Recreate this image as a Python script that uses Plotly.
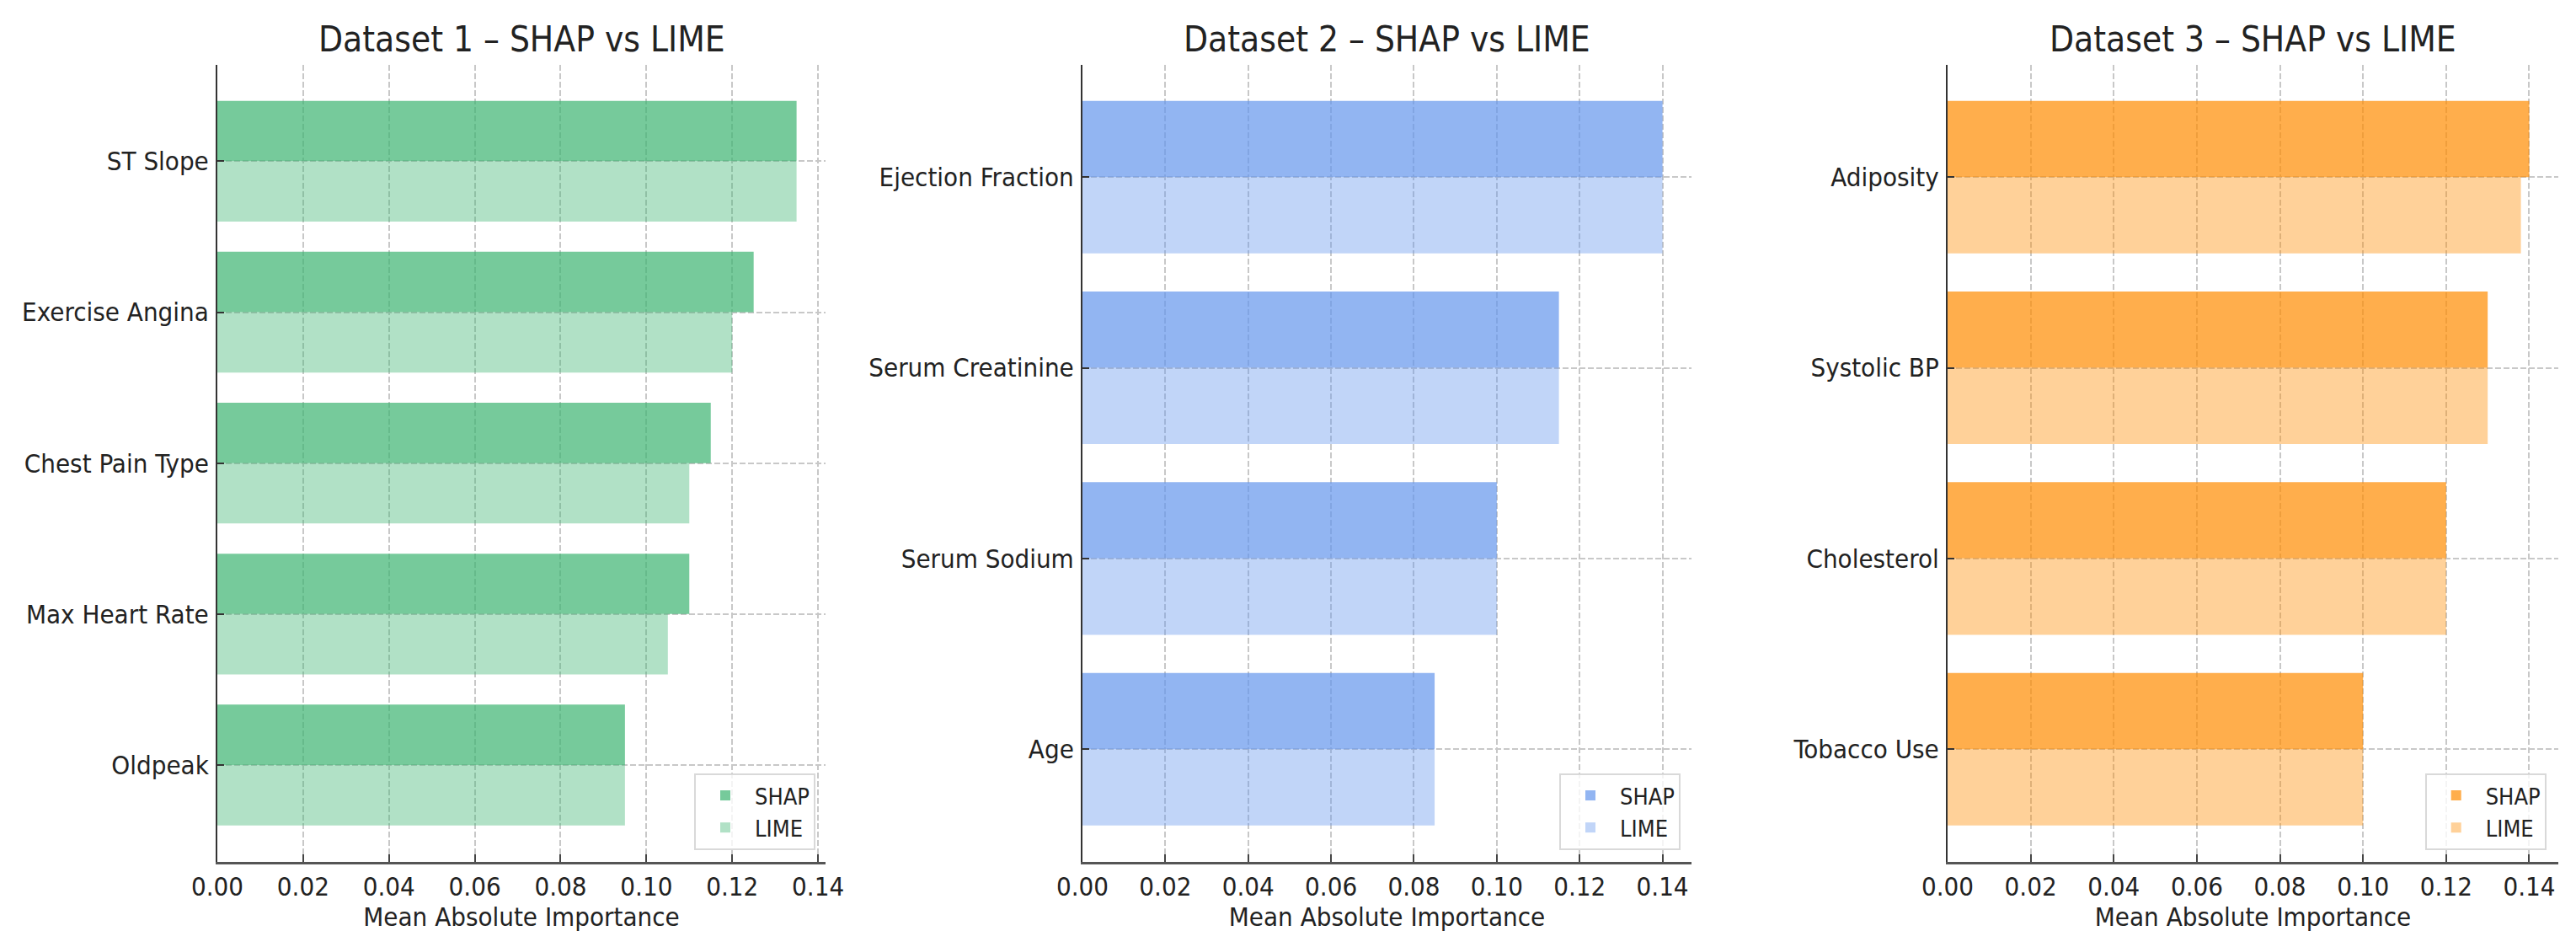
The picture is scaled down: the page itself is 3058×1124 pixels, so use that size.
import plotly.graph_objects as go

# ---- data ----
features1 = ["ST Slope", "Exercise Angina", "Chest Pain Type", "Max Heart Rate", "Oldpeak"]
shap1 = [0.135, 0.125, 0.115, 0.110, 0.095]
lime1 = [0.135, 0.120, 0.110, 0.105, 0.095]

features2 = ["Ejection Fraction", "Serum Creatinine", "Serum Sodium", "Age"]
shap2 = [0.140, 0.115, 0.100, 0.085]
lime2 = [0.140, 0.115, 0.100, 0.085]

features3 = ["Adiposity", "Systolic BP", "Cholesterol", "Tobacco Use"]
shap3 = [0.140, 0.130, 0.120, 0.100]
lime3 = [0.138, 0.130, 0.120, 0.100]

titles = ["Dataset 1 – SHAP vs LIME", "Dataset 2 – SHAP vs LIME", "Dataset 3 – SHAP vs LIME"]
tick_values = [0.00, 0.02, 0.04, 0.06, 0.08, 0.10, 0.12, 0.14]
x_title = "Mean Absolute Importance"

# ---- styling ----
W, H = 3058, 1124
FONT = "DejaVu Sans Condensed, DejaVu Sans, sans-serif"
TXT = "#222222"
GRID = "#c8c8c8"
base_rgb = ["60,179,113", "100,149,237", "255,140,0"]
x_domains = [(258 / W, 980 / W), (1285 / W, 2008 / W), (2312 / W, 3037 / W)]
y_domain = (101.3 / H, 1047.3 / H)
legend_x = [968 / W, 1995 / W, 3022.7 / W]
legend_y = 115 / H

panels = [(features1, shap1, lime1), (features2, shap2, lime2), (features3, shap3, lime3)]

fig = go.Figure()
layout = dict(
    width=W, height=H, autosize=False,
    margin=dict(l=0, r=0, t=0, b=0),
    paper_bgcolor="white", plot_bgcolor="white",
    barmode="group", bargap=0.2, bargroupgap=0.0,
    font=dict(family=FONT, size=31, color=TXT),
    annotations=[],
)

for i, (feats, shap, lime) in enumerate(panels):
    sfx = "" if i == 0 else str(i + 1)
    xa, ya = "x" + sfx, "y" + sfx
    leg = "legend" + sfx
    fig.add_trace(go.Bar(
        y=feats, x=shap, orientation="h", name="SHAP",
        marker=dict(color=f"rgba({base_rgb[i]},0.7)", line=dict(width=0)),
        xaxis=xa, yaxis=ya, legend=leg, hoverinfo="x+y",
    ))
    fig.add_trace(go.Bar(
        y=feats, x=lime, orientation="h", name="LIME",
        marker=dict(color=f"rgba({base_rgb[i]},0.4)", line=dict(width=0)),
        xaxis=xa, yaxis=ya, legend=leg, hoverinfo="x+y",
    ))

    n = len(feats)
    span = n - 0.2
    m = 0.05 * span
    xmax = max(max(shap), max(lime)) * 1.05

    layout["xaxis" + sfx] = dict(
        domain=list(x_domains[i]), anchor=ya, range=[0, xmax],
        tickmode="array", tickvals=tick_values, tickformat=".2f",
        ticks="inside", ticklen=9, tickwidth=2, tickcolor="#444",
        showline=True, linecolor="#555", linewidth=3, mirror=False,
        showgrid=True, gridcolor=GRID, gridwidth=2, griddash="7px,3px",
        zeroline=False, automargin=False, ticklabelstandoff=0,
        tickfont=dict(size=31, color=TXT, family=FONT),
        title=dict(text=x_title, font=dict(size=31, color=TXT, family=FONT), standoff=6),
        fixedrange=True,
    )
    layout["yaxis" + sfx] = dict(
        domain=list(y_domain), anchor=xa, type="category",
        categoryorder="array", categoryarray=feats,
        range=[n - 1 + 0.4 + m, -0.4 - m],
        ticks="inside", ticklen=8, tickwidth=2, tickcolor="#333",
        showline=True, linecolor="#333", linewidth=2,
        showgrid=True, gridcolor=GRID, gridwidth=2, griddash="7px,3px",
        zeroline=False, automargin=False, ticklabelstandoff=2,
        tickfont=dict(size=31, color=TXT, family=FONT),
        fixedrange=True,
    )
    layout[leg] = dict(
        x=legend_x[i], y=legend_y, xanchor="right", yanchor="bottom",
        xref="paper", yref="paper",
        bgcolor="rgba(255,255,255,0.8)", bordercolor="#d9d9d9", borderwidth=2,
        font=dict(size=27, color=TXT, family=FONT), traceorder="normal",
        itemwidth=60,
    )
    cx = (x_domains[i][0] + x_domains[i][1]) / 2
    layout["annotations"].append(dict(
        text=titles[i], x=cx, y=y_domain[1], xref="paper", yref="paper",
        xanchor="center", yanchor="bottom", yshift=4, showarrow=False,
        font=dict(size=42, color=TXT, family=FONT),
    ))

fig.update_layout(**layout)
fig.write_html(
    "out.html",
    config={"displayModeBar": False, "staticPlot": False},
    post_script="document.body.style.margin='0px';document.body.style.overflow='hidden';",
)
